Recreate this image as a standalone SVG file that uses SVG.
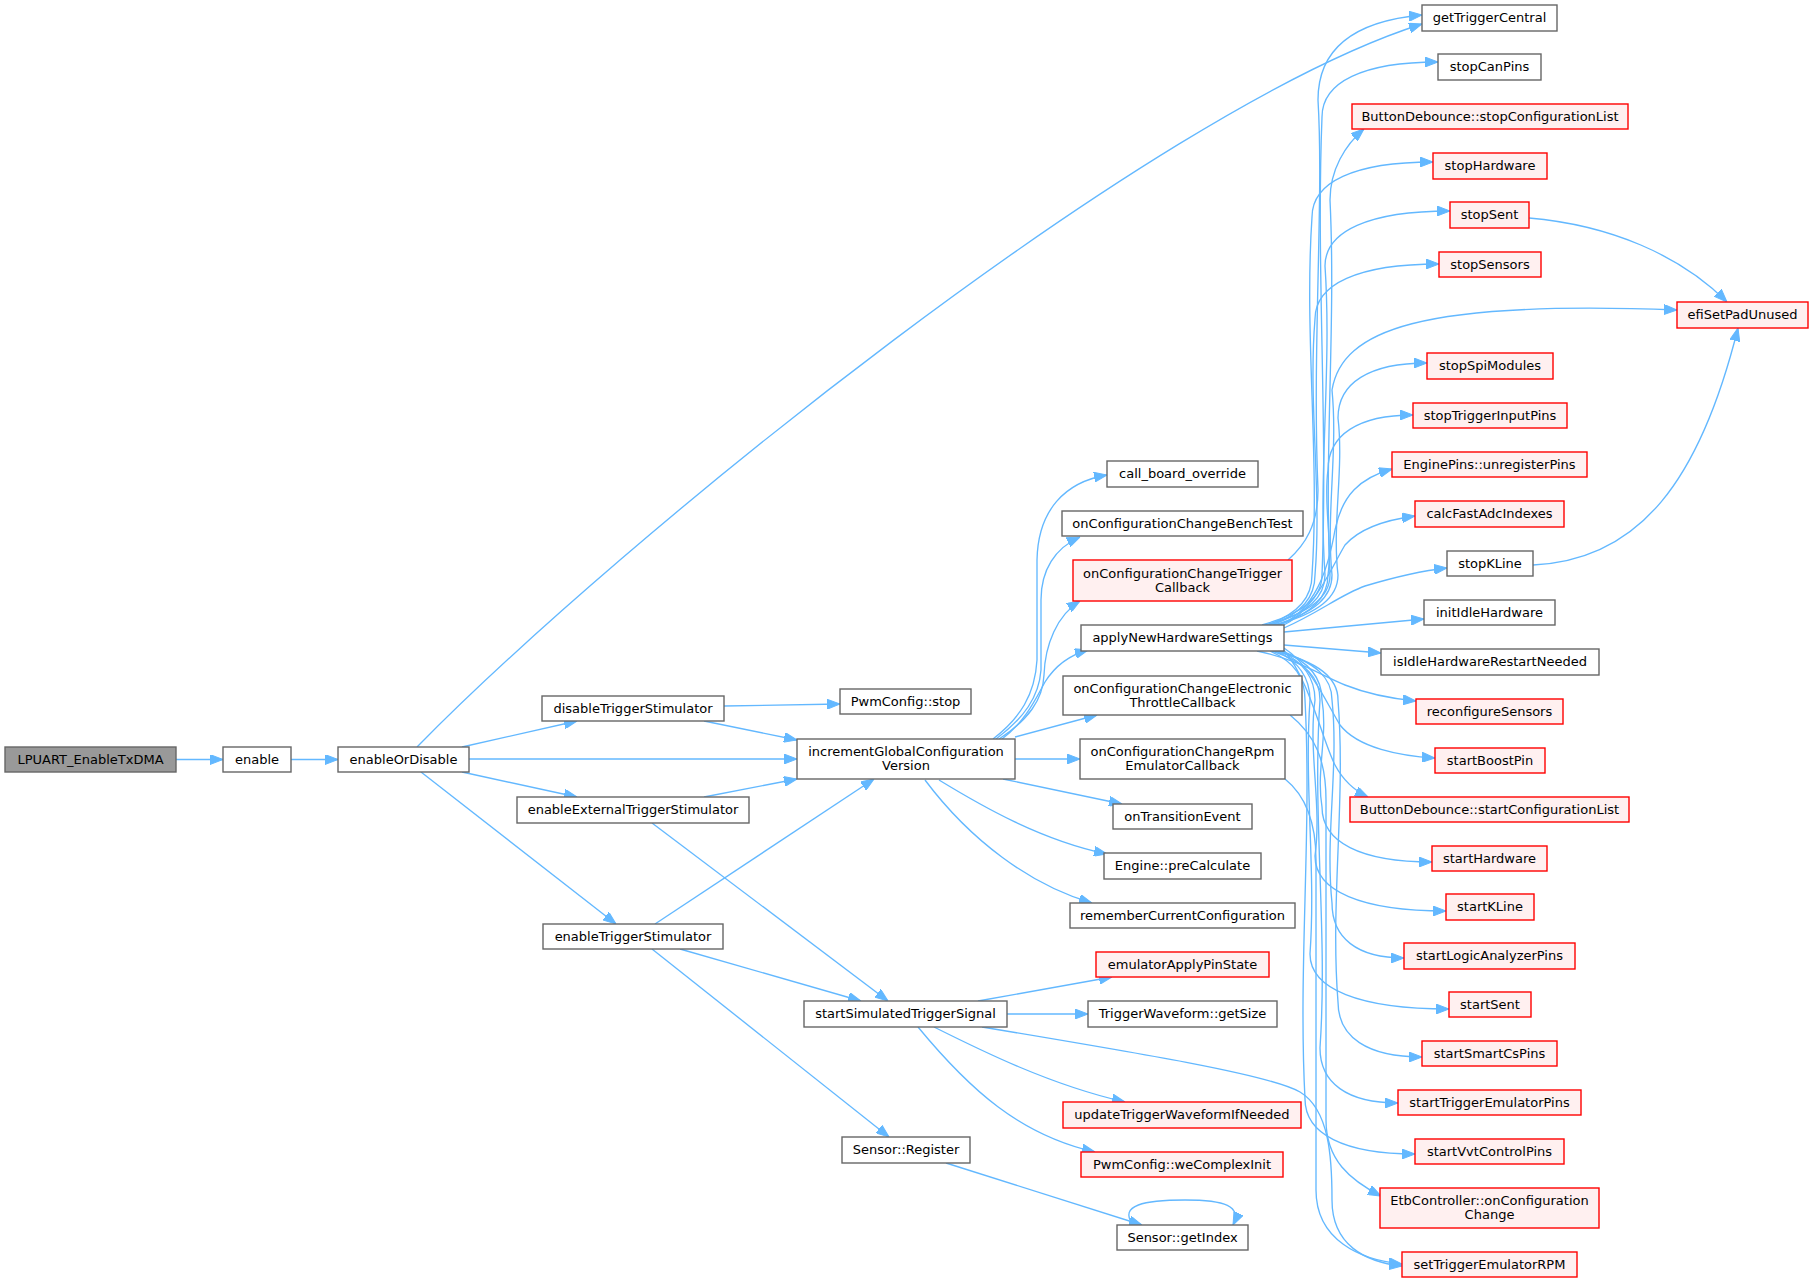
<svg xmlns="http://www.w3.org/2000/svg" width="1813" height="1288" viewBox="0 0 1813 1288">
<defs>
<style>
.bg{fill:#ffffff}
.nd rect{fill:#ffffff;stroke:#666666;stroke-width:1.4}
.nd.red rect{fill:#fff0f0;stroke:#ff0000}
.nd.root rect{fill:#999999;stroke:#666666}
.nd text{font-family:"DejaVu Sans",Verdana,sans-serif;font-size:13px;fill:#000000;text-anchor:middle}
.edges path{fill:none;stroke:#63b8ff;stroke-width:1.35;marker-end:url(#ah)}
</style>
<marker id="ah" viewBox="0 0 13 10" refX="13" refY="5" markerWidth="13" markerHeight="10" markerUnits="userSpaceOnUse" orient="auto">
<path d="M0,0 L13,5 L0,10 z" fill="#63b8ff" stroke="#63b8ff" stroke-width="1"/>
</marker>
</defs>
<rect class="bg" x="0" y="0" width="1813" height="1288"/>
<g class="edges">
<path d="M176,759.5 L223,759.5"/>
<path d="M291,759.5 L338,759.5"/>
<path d="M417,747 C620,540 1150,110 1422,24"/>
<path d="M462,747 L577,721"/>
<path d="M469,759 L797,759"/>
<path d="M462,772 L577,797"/>
<path d="M421,772 L616,924"/>
<path d="M724,706 L840,704"/>
<path d="M704,721 L797,740"/>
<path d="M704,797 L797,779"/>
<path d="M652,823 L888,1001"/>
<path d="M655,924 L874,779"/>
<path d="M680,949 L861,1001"/>
<path d="M652,949 L889,1137"/>
<path d="M946,1163 L1142,1225"/>
<path d="M1133,1225 C1118,1205 1145,1200 1185,1200 C1225,1200 1242,1206 1233,1225"/>
<path d="M993,739 C1020,718 1035,695 1037,660 L1037,560 C1038,510 1065,482 1107,475"/>
<path d="M996,739 C1024,718 1039,697 1041,670 L1041,600 C1041,570 1055,548 1080,537"/>
<path d="M999,739 C1028,720 1043,700 1044,675 C1045,645 1057,615 1080,601"/>
<path d="M1002,739 C1025,722 1035,700 1045,682 C1055,666 1070,655 1088,650"/>
<path d="M1015,737 L1097,715"/>
<path d="M1015,759 L1080,759"/>
<path d="M1003,779 L1122,804"/>
<path d="M939,780 C980,805 1040,840 1107,854"/>
<path d="M925,780 C970,840 1030,885 1092,903"/>
<path d="M978,1001 L1112,977"/>
<path d="M1007,1014 L1088,1014"/>
<path d="M982,1027 C1150,1055 1270,1075 1300,1092 C1330,1110 1332,1160 1332,1200 C1332,1245 1365,1262 1402,1266"/>
<path d="M934,1027 C980,1050 1050,1085 1125,1102"/>
<path d="M918,1027 C970,1090 1020,1135 1095,1152"/>
<path d="M1290,715 C1315,735 1326,760 1326,800 L1326,1120 C1326,1160 1350,1180 1381,1196"/>
<path d="M1285,779 C1305,795 1316,820 1316,860 L1316,1190 C1316,1240 1360,1260 1402,1264"/>
<path d="M1288,560 C1305,545 1318,525 1318,490 C1312,350 1324,200 1318,100 C1318,55 1345,22 1422,15"/>
<path d="M1262,625 C1304,613 1322,597 1322,575 C1328,422 1316,270 1322,117 C1322,82 1363,62 1438,62"/>
<path d="M1265,625 C1310,613 1330,597 1330,575 C1324,450 1336,325 1330,200 C1330,170 1345,145 1364,129"/>
<path d="M1268,625 C1299,613 1312,597 1312,575 C1320,456 1304,336 1312,217 C1312,182 1354,162 1433,162"/>
<path d="M1270,625 C1308,613 1325,597 1325,575 C1318,472 1332,369 1325,266 C1325,231 1369,211 1450,211"/>
<path d="M1272,625 C1302,613 1315,597 1315,575 C1322,490 1308,404 1315,319 C1315,284 1358,264 1439,264"/>
<path d="M1274,625 C1315,613 1332,597 1332,575 C1326,513 1338,452 1332,390 C1342,330 1420,300 1677,310"/>
<path d="M1276,625 C1319,613 1338,597 1338,575 C1332,523 1344,470 1338,418 C1338,383 1369,363 1427,363"/>
<path d="M1278,625 C1313,613 1328,597 1328,575 C1333,540 1323,505 1328,470 C1328,435 1358,415 1413,415"/>
<path d="M1280,625 C1315,610 1328,570 1335,530 C1342,495 1360,478 1392,469"/>
<path d="M1282,626 C1315,610 1330,570 1345,545 C1360,528 1385,520 1415,516"/>
<path d="M1284,628 C1320,612 1340,595 1365,586 C1395,577 1420,571 1447,568"/>
<path d="M1284,632 L1424,619"/>
<path d="M1284,645 L1381,653"/>
<path d="M1257,651 C1300,660 1320,675 1345,685 C1370,695 1395,699 1416,701"/>
<path d="M1284,648 C1310,665 1325,700 1340,725 C1358,748 1400,756 1435,758"/>
<path d="M1283,649 C1310,680 1322,740 1335,765 C1343,780 1353,790 1368,797"/>
<path d="M1282,651 C1310,662 1322,678 1322,700 C1328,736 1316,771 1322,807 C1322,842 1360,862 1432,862"/>
<path d="M1280,651 C1304,662 1315,678 1315,700 C1308,752 1322,804 1315,856 C1315,891 1361,911 1446,911"/>
<path d="M1278,651 C1316,662 1332,678 1332,700 C1339,768 1325,835 1332,903 C1332,938 1357,958 1404,958"/>
<path d="M1276,651 C1300,662 1310,678 1310,700 C1304,785 1316,869 1310,954 C1310,989 1359,1009 1449,1009"/>
<path d="M1274,651 C1319,662 1338,678 1338,700 C1346,801 1330,901 1338,1002 C1338,1037 1367,1057 1422,1057"/>
<path d="M1272,651 C1306,662 1320,678 1320,700 C1312,816 1328,932 1320,1048 C1320,1083 1347,1103 1398,1103"/>
<path d="M1270,651 C1295,662 1305,678 1305,700 C1312,833 1298,966 1305,1099 C1305,1134 1344,1154 1415,1154"/>
<path d="M1529,218 C1610,225 1680,255 1727,302"/>
<path d="M1533,565 C1640,560 1700,480 1738,328"/>
</g>
<g id="n0" class="nd root"><rect x="5" y="747" width="171" height="25"/><text x="90.5" y="763.5">LPUART_EnableTxDMA</text></g>
<g id="n1" class="nd"><rect x="223" y="747" width="68" height="25"/><text x="257" y="763.5">enable</text></g>
<g id="n2" class="nd"><rect x="338" y="747" width="131" height="25"/><text x="403.5" y="763.5">enableOrDisable</text></g>
<g id="n3" class="nd"><rect x="542" y="696" width="182" height="25"/><text x="633" y="712.5">disableTriggerStimulator</text></g>
<g id="n4" class="nd"><rect x="517" y="797" width="232" height="26"/><text x="633" y="814">enableExternalTriggerStimulator</text></g>
<g id="n5" class="nd"><rect x="543" y="924" width="180" height="25"/><text x="633" y="940.5">enableTriggerStimulator</text></g>
<g id="n6" class="nd"><rect x="840" y="689" width="131" height="25"/><text x="905.5" y="705.5">PwmConfig::stop</text></g>
<g id="n7" class="nd"><rect x="797" y="739" width="218" height="40"/><text x="906" y="756">incrementGlobalConfiguration</text><text x="906" y="770">Version</text></g>
<g id="n8" class="nd"><rect x="804" y="1001" width="203" height="26"/><text x="905.5" y="1018">startSimulatedTriggerSignal</text></g>
<g id="n9" class="nd"><rect x="842" y="1137" width="128" height="26"/><text x="906" y="1154">Sensor::Register</text></g>
<g id="n10" class="nd"><rect x="1107" y="461" width="151" height="26"/><text x="1182.5" y="478">call_board_override</text></g>
<g id="n11" class="nd"><rect x="1062" y="511" width="241" height="25"/><text x="1182.5" y="527.5">onConfigurationChangeBenchTest</text></g>
<g id="n12" class="nd red"><rect x="1073" y="560" width="219" height="41"/><text x="1182.5" y="577.5">onConfigurationChangeTrigger</text><text x="1182.5" y="591.5">Callback</text></g>
<g id="n13" class="nd"><rect x="1081" y="625" width="203" height="26"/><text x="1182.5" y="642">applyNewHardwareSettings</text></g>
<g id="n14" class="nd"><rect x="1063" y="676" width="239" height="39"/><text x="1182.5" y="692.5">onConfigurationChangeElectronic</text><text x="1182.5" y="706.5">ThrottleCallback</text></g>
<g id="n15" class="nd"><rect x="1080" y="739" width="205" height="40"/><text x="1182.5" y="756">onConfigurationChangeRpm</text><text x="1182.5" y="770">EmulatorCallback</text></g>
<g id="n16" class="nd"><rect x="1113" y="804" width="139" height="25"/><text x="1182.5" y="820.5">onTransitionEvent</text></g>
<g id="n17" class="nd"><rect x="1104" y="853" width="157" height="26"/><text x="1182.5" y="870">Engine::preCalculate</text></g>
<g id="n18" class="nd"><rect x="1070" y="903" width="225" height="25"/><text x="1182.5" y="919.5">rememberCurrentConfiguration</text></g>
<g id="n19" class="nd red"><rect x="1096" y="952" width="173" height="25"/><text x="1182.5" y="968.5">emulatorApplyPinState</text></g>
<g id="n20" class="nd"><rect x="1088" y="1001" width="189" height="26"/><text x="1182.5" y="1018">TriggerWaveform::getSize</text></g>
<g id="n21" class="nd red"><rect x="1063" y="1102" width="238" height="26"/><text x="1182" y="1119">updateTriggerWaveformIfNeeded</text></g>
<g id="n22" class="nd red"><rect x="1081" y="1152" width="202" height="25"/><text x="1182" y="1168.5">PwmConfig::weComplexInit</text></g>
<g id="n23" class="nd"><rect x="1117" y="1225" width="131" height="25"/><text x="1182.5" y="1241.5">Sensor::getIndex</text></g>
<g id="n24" class="nd"><rect x="1422" y="5" width="135" height="26"/><text x="1489.5" y="22">getTriggerCentral</text></g>
<g id="n25" class="nd"><rect x="1438" y="54" width="103" height="26"/><text x="1489.5" y="71">stopCanPins</text></g>
<g id="n26" class="nd red"><rect x="1352" y="104" width="276" height="25"/><text x="1490" y="120.5">ButtonDebounce::stopConfigurationList</text></g>
<g id="n27" class="nd red"><rect x="1433" y="153" width="114" height="26"/><text x="1490" y="170">stopHardware</text></g>
<g id="n28" class="nd red"><rect x="1450" y="202" width="79" height="26"/><text x="1489.5" y="219">stopSent</text></g>
<g id="n29" class="nd red"><rect x="1439" y="252" width="102" height="25"/><text x="1490" y="268.5">stopSensors</text></g>
<g id="n30" class="nd red"><rect x="1677" y="302" width="131" height="26"/><text x="1742.5" y="319">efiSetPadUnused</text></g>
<g id="n31" class="nd red"><rect x="1427" y="353" width="126" height="26"/><text x="1490" y="370">stopSpiModules</text></g>
<g id="n32" class="nd red"><rect x="1413" y="403" width="154" height="25"/><text x="1490" y="419.5">stopTriggerInputPins</text></g>
<g id="n33" class="nd red"><rect x="1392" y="452" width="195" height="25"/><text x="1489.5" y="468.5">EnginePins::unregisterPins</text></g>
<g id="n34" class="nd red"><rect x="1415" y="501" width="149" height="26"/><text x="1489.5" y="518">calcFastAdcIndexes</text></g>
<g id="n35" class="nd"><rect x="1447" y="551" width="86" height="25"/><text x="1490" y="567.5">stopKLine</text></g>
<g id="n36" class="nd"><rect x="1424" y="600" width="131" height="25"/><text x="1489.5" y="616.5">initIdleHardware</text></g>
<g id="n37" class="nd"><rect x="1381" y="649" width="218" height="26"/><text x="1490" y="666">isIdleHardwareRestartNeeded</text></g>
<g id="n38" class="nd red"><rect x="1416" y="699" width="147" height="25"/><text x="1489.5" y="715.5">reconfigureSensors</text></g>
<g id="n39" class="nd red"><rect x="1435" y="748" width="110" height="25"/><text x="1490" y="764.5">startBoostPin</text></g>
<g id="n40" class="nd red"><rect x="1350" y="797" width="279" height="25"/><text x="1489.5" y="813.5">ButtonDebounce::startConfigurationList</text></g>
<g id="n41" class="nd red"><rect x="1432" y="846" width="115" height="25"/><text x="1489.5" y="862.5">startHardware</text></g>
<g id="n42" class="nd red"><rect x="1446" y="894" width="88" height="26"/><text x="1490" y="911">startKLine</text></g>
<g id="n43" class="nd red"><rect x="1404" y="943" width="171" height="26"/><text x="1489.5" y="960">startLogicAnalyzerPins</text></g>
<g id="n44" class="nd red"><rect x="1449" y="992" width="82" height="25"/><text x="1490" y="1008.5">startSent</text></g>
<g id="n45" class="nd red"><rect x="1422" y="1041" width="135" height="25"/><text x="1489.5" y="1057.5">startSmartCsPins</text></g>
<g id="n46" class="nd red"><rect x="1398" y="1090" width="183" height="25"/><text x="1489.5" y="1106.5">startTriggerEmulatorPins</text></g>
<g id="n47" class="nd red"><rect x="1415" y="1139" width="149" height="25"/><text x="1489.5" y="1155.5">startVvtControlPins</text></g>
<g id="n48" class="nd red"><rect x="1380" y="1188" width="219" height="40"/><text x="1489.5" y="1205">EtbController::onConfiguration</text><text x="1489.5" y="1219">Change</text></g>
<g id="n49" class="nd red"><rect x="1402" y="1252" width="175" height="25"/><text x="1489.5" y="1268.5">setTriggerEmulatorRPM</text></g>
</svg>
